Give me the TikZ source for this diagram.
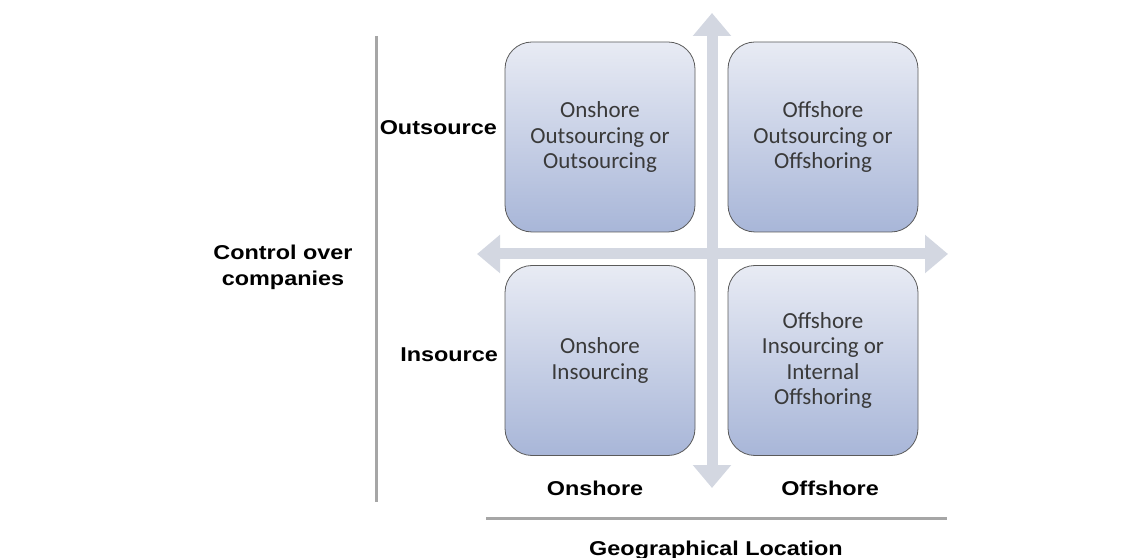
\documentclass[tikz,border=0pt]{standalone}
\usepackage{fontspec}
\setmainfont{Carlito}
\newfontfamily\labfont[FakeStretch=1.17]{Liberation Sans}
\usetikzlibrary{arrows.meta}
\definecolor{axisc}{HTML}{D3D7E1}
\definecolor{railc}{HTML}{A6A6A6}
\definecolor{boxtop}{HTML}{E8EBF4}
\definecolor{boxbot}{HTML}{A8B6D8}
\definecolor{boxline}{HTML}{5A5A5A}
\definecolor{boxtext}{HTML}{3A3A3A}
\begin{document}
\begin{tikzpicture}[x=1pt,y=1pt,
  quad/.style={draw=boxline,line width=0.8pt,rounded corners=27pt,
    minimum width=190pt,minimum height=190pt,inner sep=0pt,
    top color=boxtop,bottom color=boxbot,text=boxtext,align=center,
    font=\fontsize{23}{25.5}\selectfont},
  axisline/.style={draw=axisc,line width=11pt,
    {Triangle[width=37pt,length=23pt]}-{Triangle[width=37pt,length=23pt]}},
  rail/.style={draw=railc,line width=3pt},
  lab/.style={font=\labfont\bfseries\fontsize{20}{26}\selectfont,text=black,inner sep=0pt,align=center}]
\useasboundingbox (0,0) rectangle (1145,557);
% axes
\coordinate (vtop) at (712,544);
\coordinate (vbot) at (712,69);
\coordinate (hl) at (477,303);
\coordinate (hr) at (948,303);
\draw[axisline] (hl) -- (hr);
\draw[axisline] (vbot) -- (vtop);
% rails
\coordinate (lt) at (376,521);
\coordinate (lb) at (376,55);
\coordinate (bl) at (486,39);
\coordinate (br) at (947,39);
\draw[rail] (lt) -- (lb);
\draw[rail] (bl) -- (br);
% quadrants
\node[quad] (tl) at (600,420) {Onshore\\Outsourcing or\\Outsourcing};
\node[quad] (tr) at (823,420) {Offshore\\Outsourcing or\\Offshoring};
\node[quad] (bll) at (600,196.5) {Onshore\\Insourcing};
\node[quad] (brr) at (823,196.5) {Offshore\\Insourcing or\\Internal\\Offshoring};
% labels
\node[lab,anchor=east] (outs) at (497,429) {Outsource};
\node[lab,anchor=east] (ins) at (498,202) {Insource};
\node[lab] (ctrl) at (283,290) {Control over\\companies};
\node[lab] (on) at (595,69) {Onshore};
\node[lab] (off) at (830,69) {Offshore};
\node[lab,anchor=base] (geo) at (716,2) {Geographical Location};
\end{tikzpicture}
\end{document}
